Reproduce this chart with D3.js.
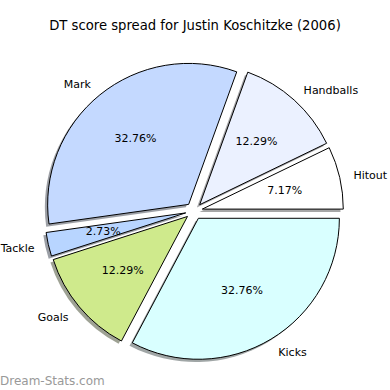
<!DOCTYPE html>
<html>
<head>
<meta charset="utf-8">
<script src="https://cdn.jsdelivr.net/npm/d3@7"></script>
<style>
  html, body { margin: 0; padding: 0; background: #fff; }
  svg text { font-family: "DejaVu Sans", sans-serif; }
</style>
</head>
<body>
<div id="chart"></div>
<script>
// DT score spread, slice order as drawn (counter-clockwise from 3 o'clock)
const categories = ["Hitout", "Handballs", "Mark", "Tackle", "Goals", "Kicks"];
const percents = [7.17, 12.29, 32.76, 2.73, 12.29, 32.76];
const sliceColors = ["#ffffff", "#ebf1ff", "#c4d9ff", "#b8d5ff", "#cfea8c", "#d9ffff"];
const chartTitle = "DT score spread for Justin Koschitzke (2006)";

const width = 390, height = 390;
const cx = 194, cy = 211, r = 141;
const explode = 8.5;

const svg = d3.select("#chart").append("svg")
  .attr("width", width)
  .attr("height", height);

svg.append("text")
  .attr("x", width / 2)
  .attr("y", 30)
  .attr("text-anchor", "middle")
  .attr("font-size", "13.2px")
  .attr("fill", "#000")
  .text(chartTitle);

// counter-clockwise from 3 o'clock, like matplotlib
const pie = d3.pie()
  .sort(null)
  .startAngle(Math.PI / 2)
  .endAngle(Math.PI / 2 - 2 * Math.PI);

const arcs = pie(percents).map((d, i) => {
  const mid = (d.startAngle + d.endAngle) / 2;
  return {
    ...d,
    name: categories[i],
    color: sliceColors[i],
    mid,
    ox: cx + explode * Math.sin(mid),
    oy: cy - explode * Math.cos(mid),
  };
});

const arc = d3.arc().innerRadius(0).outerRadius(r);

// shadows under everything
svg.append("g")
  .selectAll("path")
  .data(arcs)
  .join("path")
  .attr("transform", (d) => `translate(${d.ox - 2.8},${d.oy + 2.8})`)
  .attr("d", arc)
  .attr("fill", (d) => {
    const c = d3.rgb(d.color);
    return d3.rgb(c.r * 0.3, c.g * 0.3, c.b * 0.3);
  })
  .attr("fill-opacity", 0.5);

svg.append("g")
  .selectAll("path")
  .data(arcs)
  .join("path")
  .attr("transform", (d) => `translate(${d.ox},${d.oy})`)
  .attr("d", arc)
  .attr("fill", (d) => d.color)
  .attr("stroke", "#000")
  .attr("stroke-width", 1)
  .attr("stroke-linejoin", "round");

// category labels at 1.1 r
svg.append("g")
  .selectAll("text")
  .data(arcs)
  .join("text")
  .attr("x", (d) => d.ox + 1.1 * r * Math.sin(d.mid))
  .attr("y", (d) => d.oy - 1.1 * r * Math.cos(d.mid) + 1)
  .attr("text-anchor", (d) => (Math.sin(d.mid) > 0 ? "start" : "end"))
  .attr("dominant-baseline", "central")
  .attr("font-size", "11px")
  .attr("fill", "#000")
  .text((d) => d.name);

// percentages at 0.6 r
svg.append("g")
  .selectAll("text")
  .data(arcs)
  .join("text")
  .attr("x", (d) => d.ox + 0.6 * r * Math.sin(d.mid))
  .attr("y", (d) => d.oy - 0.6 * r * Math.cos(d.mid))
  .attr("text-anchor", "middle")
  .attr("dominant-baseline", "central")
  .attr("font-size", "11px")
  .attr("fill", "#000")
  .text((d) => d.value.toFixed(2) + "%");

svg.append("text")
  .attr("x", 0)
  .attr("y", 385)
  .attr("font-size", "12px")
  .attr("fill", "#999")
  .text("Dream-Stats.com");
</script>
</body>
</html>
